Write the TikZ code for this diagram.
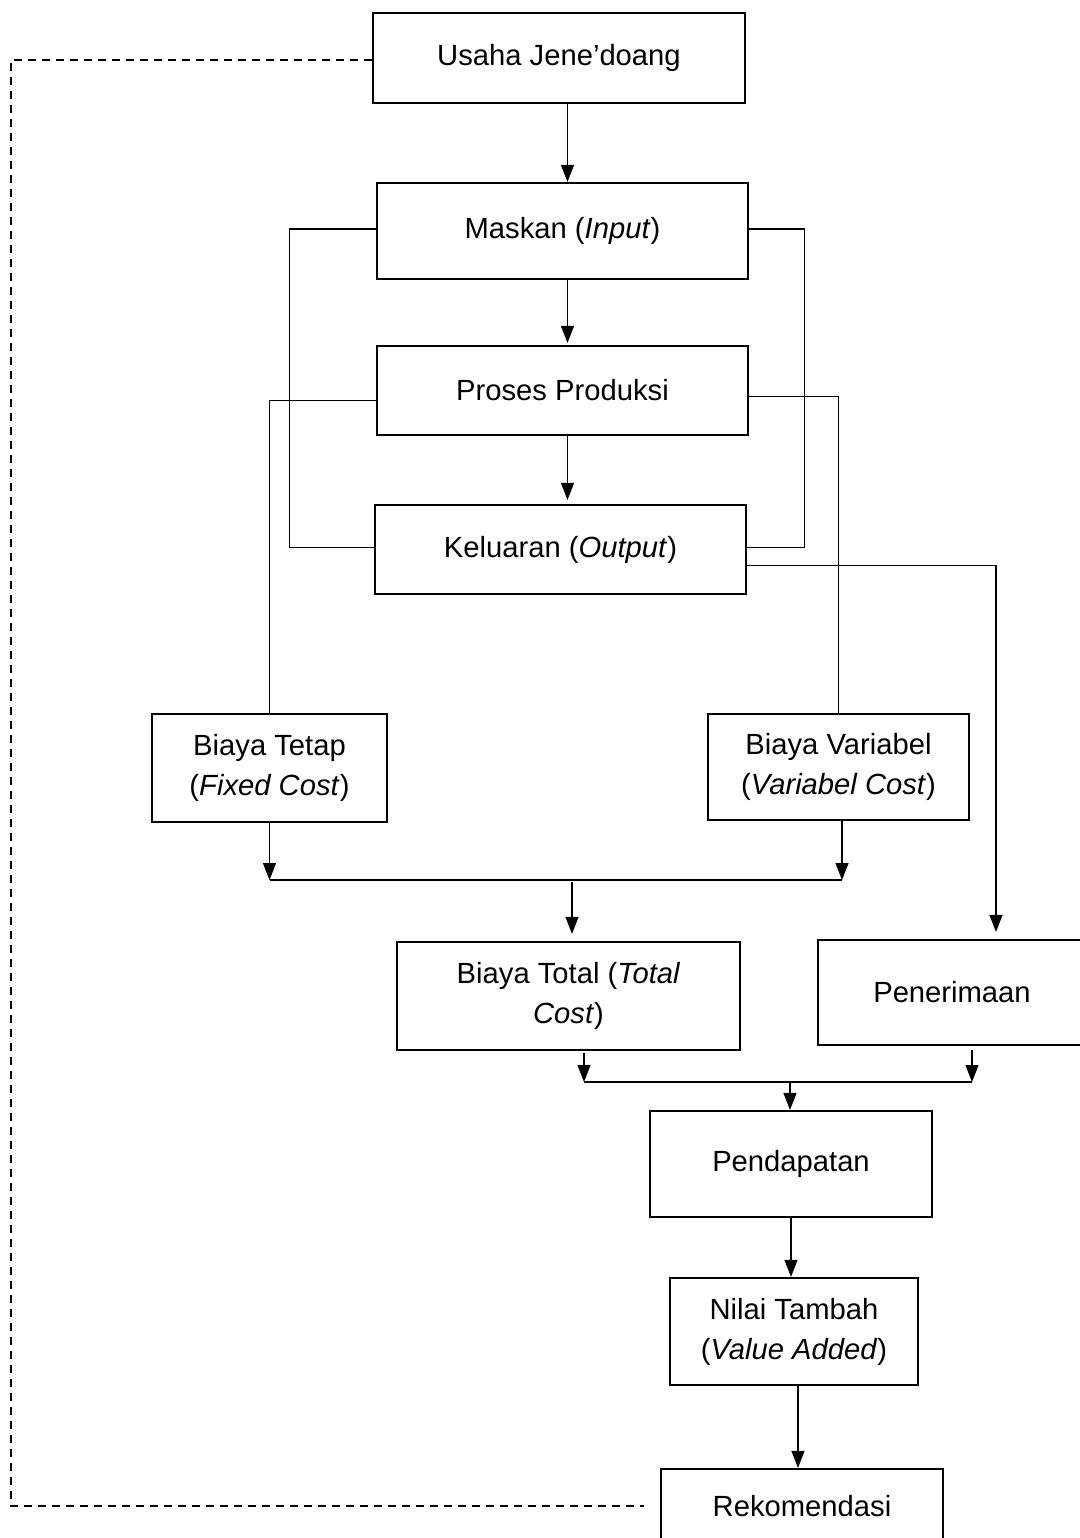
\documentclass[tikz,border=0pt]{standalone}
\usepackage{fontspec}
\setmainfont{Liberation Sans}
\usetikzlibrary{arrows.meta,calc}
\tikzset{
 box/.style={draw,line width=1.1pt,align=center,inner sep=2pt,
             font=\fontsize{14.6}{20}\selectfont},
 line/.style={line width=0.55pt},
 arrow/.style={-{Triangle[length=8.5pt,width=6.5pt]},line width=0.55pt},
 feedback/.style={dash pattern=on 4pt off 3pt,line width=0.65pt}
}

\begin{document}
\begin{tikzpicture}[x=0.5pt,y=-0.5pt]
\useasboundingbox (0,0) rectangle (1080,1538);
% main column
\node[box,minimum width=186pt,minimum height=45pt] (usaha) at (559,58) {Usaha Jene’doang};
\node[box,minimum width=185.5pt,minimum height=48pt] (maskan) at (562.5,231) {Maskan (\textit{Input})};
\node[box,minimum width=185.5pt,minimum height=44.5pt] (proses) at (562.5,390.5) {Proses Produksi};
\node[box,minimum width=185.5pt,minimum height=44.5pt] (keluaran) at (560.5,549.5) {Keluaran (\textit{Output})};
% costs
\node[box,minimum width=117.5pt,minimum height=54pt] (tetap) at (269.5,768) {Biaya Tetap\\(\textit{Fixed Cost})};
\node[box,minimum width=130.5pt,minimum height=53pt] (variabel) at (838.5,767) {Biaya Variabel\\(\textit{Variabel Cost})};
\node[box,minimum width=171.5pt,minimum height=54pt] (total) at (568.5,996) {Biaya Total (\textit{Total}\\\textit{Cost})};
\node[box,minimum width=134pt,minimum height=52.5pt] (penerimaan) at (952,992.5) {Penerimaan};
% results
\node[box,minimum width=141pt,minimum height=53pt] (pendapatan) at (791,1164) {Pendapatan};
\node[box,minimum width=124pt,minimum height=53.5pt] (nilai) at (794,1331.5) {Nilai Tambah\\(\textit{Value Added})};
\node[box,minimum width=141pt,minimum height=37pt] (rekom) at (802,1506) {Rekomendasi};

\draw[arrow] ([xshift=2.5pt]usaha.south -| maskan.north) -- ([xshift=2.5pt]maskan.north);
\draw[arrow,shorten >=1pt] ([xshift=2.5pt]maskan.south) -- ([xshift=2.5pt]proses.north);
\draw[arrow,shorten >=2pt] ([xshift=2.5pt]proses.south) -- ([xshift=2.5pt]proses.south |- keluaran.north);

% brackets input-output
\draw[line] ([yshift=1pt]maskan.west) -- ++(-86,0) |- ([yshift=1pt]keluaran.west);
\draw[line] ([yshift=1pt]maskan.east) -- ++(55,0) |- ([yshift=1pt]keluaran.east);

% branches to costs and revenue
\draw[line] ([yshift=-5pt]proses.west) -| (tetap.north);
\draw[line] ([yshift=-3pt]proses.east) -| (variabel.north);
\draw[arrow,shorten >=3.5pt] ([yshift=-8pt]keluaran.east) -| ([xshift=22pt]penerimaan.north);

% total cost
\coordinate (costL) at (269.5,880);
\coordinate (costR) at (842,880);
\coordinate (costM) at (572,880);
\draw[line] (costL) -- (costR);
\draw[arrow] (tetap.south) -- (costL);
\draw[arrow] (variabel.south -| costR) -- (costR);
\draw[arrow,shorten >=3.5pt] ([yshift=-1pt]costM) -- (costM |- total.north);

% income
\coordinate (incL) at (584,1082);
\coordinate (incR) at (972,1082);
\coordinate (incM) at (790,1082);
\draw[line] (incL) -- (incR);
\draw[arrow] ([yshift=-1pt]total.south -| incL) -- (incL);
\draw[arrow] ([yshift=-2pt]penerimaan.south -| incR) -- (incR);
\draw[arrow] (incM) -- (incM |- pendapatan.north);

\draw[arrow] (pendapatan.south) -- (pendapatan.south |- nilai.north);
\draw[arrow] ([xshift=2pt]nilai.south) -- ([xshift=2pt]nilai.south |- rekom.north);

% feedback loop
\draw[feedback,shorten >=8pt] ([yshift=-1pt]usaha.west) -- ++(-361,0) |- (rekom.west);
\end{tikzpicture}
\end{document}
